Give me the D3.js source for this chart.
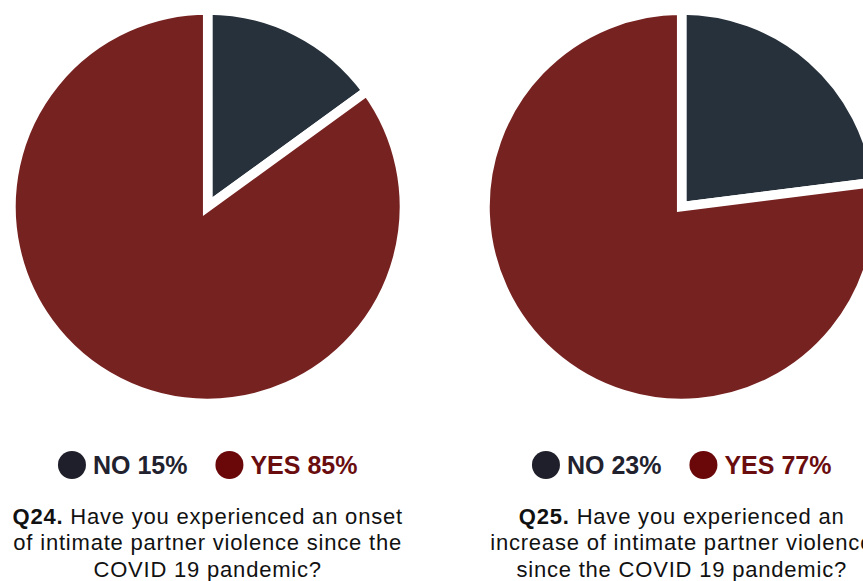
<!DOCTYPE html>
<html>
<head>
<meta charset="utf-8">
<script src="https://cdn.jsdelivr.net/npm/d3@7"></script>
<style>
  html, body { margin: 0; padding: 0; background: #fff; }
  svg { display: block; }
  text { font-family: "Liberation Sans", Arial, sans-serif; }
</style>
</head>
<body>
<svg id="chart" width="863" height="581"></svg>
<script>
// Survey answers
const answers = ["NO", "YES"];
const onsetValues = [15, 85];      // Q24
const increaseValues = [23, 77];   // Q25

// Question labels and wrapped text lines
const questionIds = ["Q24.", "Q25."];
const onsetLines = [
  "Have you experienced an onset",
  "of intimate partner violence since the",
  "COVID 19 pandemic?"
];
const increaseLines = [
  "Have you experienced an",
  "increase of intimate partner violence",
  "since the COVID 19 pandemic?"
];

const panels = [
  { id: questionIds[0], values: onsetValues, lines: onsetLines },
  { id: questionIds[1], values: increaseValues, lines: increaseLines }
];

const W = 863, H = 581;
const svg = d3.select("#chart");

const sliceColor = d3.scaleOrdinal().domain(answers).range(["#27313c", "#762220"]);
const legendColor = d3.scaleOrdinal().domain(answers).range(["#1f1f2b", "#6a0709"]);
const legendText = d3.scaleOrdinal().domain(answers).range(["#22222e", "#6a0d0f"]);

// Horizontal positions of the two panels
const cx = d3.scalePoint().domain(questionIds).range([207.7, 681.7]);
const cy = 206.7;
const radius = 196.7;

const pie = d3.pie().sort(null).value(d => d.value);
const arc = d3.arc().innerRadius(0).outerRadius(radius);

panels.forEach(p => {
  const data = answers.map((a, i) => ({ answer: a, value: p.values[i] }));
  const g = svg.append("g").attr("transform", `translate(${cx(p.id)},${cy})`);

  g.selectAll("path")
    .data(pie(data))
    .join("path")
    .attr("d", arc)
    .attr("fill", d => sliceColor(d.data.answer))
    .attr("stroke", "#fff")
    .attr("stroke-width", 9.5)
    .attr("stroke-linejoin", "miter")
    .attr("stroke-miterlimit", 20);

  // Legend: dot + bold label with percentage, centred under the pie
  const lg = svg.append("g");
  let x = 0;
  const r = 14;
  data.forEach((d, i) => {
    lg.append("circle")
      .attr("cx", x + r).attr("cy", 465).attr("r", r)
      .attr("fill", legendColor(d.answer));
    x += 2 * r + 7;
    const t = lg.append("text")
      .attr("x", x).attr("y", 474)
      .attr("font-size", 25).attr("font-weight", "bold")
      .attr("fill", legendText(d.answer))
      .text(`${d.answer} ${d.value}%`);
    x += t.node().getComputedTextLength();
    if (i < data.length - 1) x += 28;
  });
  lg.attr("transform", `translate(${cx(p.id) - x / 2},0)`);

  // Question text
  const q = svg.append("text")
    .attr("text-anchor", "middle")
    .attr("font-size", 22)
    .attr("letter-spacing", 0.8)
    .attr("fill", "#111");
  p.lines.forEach((line, i) => {
    const row = q.append("tspan")
      .attr("x", cx(p.id))
      .attr("y", 524 + i * 26.4);
    if (i === 0) {
      row.append("tspan").attr("font-weight", "bold").text(p.id + " ");
      row.append("tspan").text(line);
    } else {
      row.text(line);
    }
  });
});
</script>
</body>
</html>
